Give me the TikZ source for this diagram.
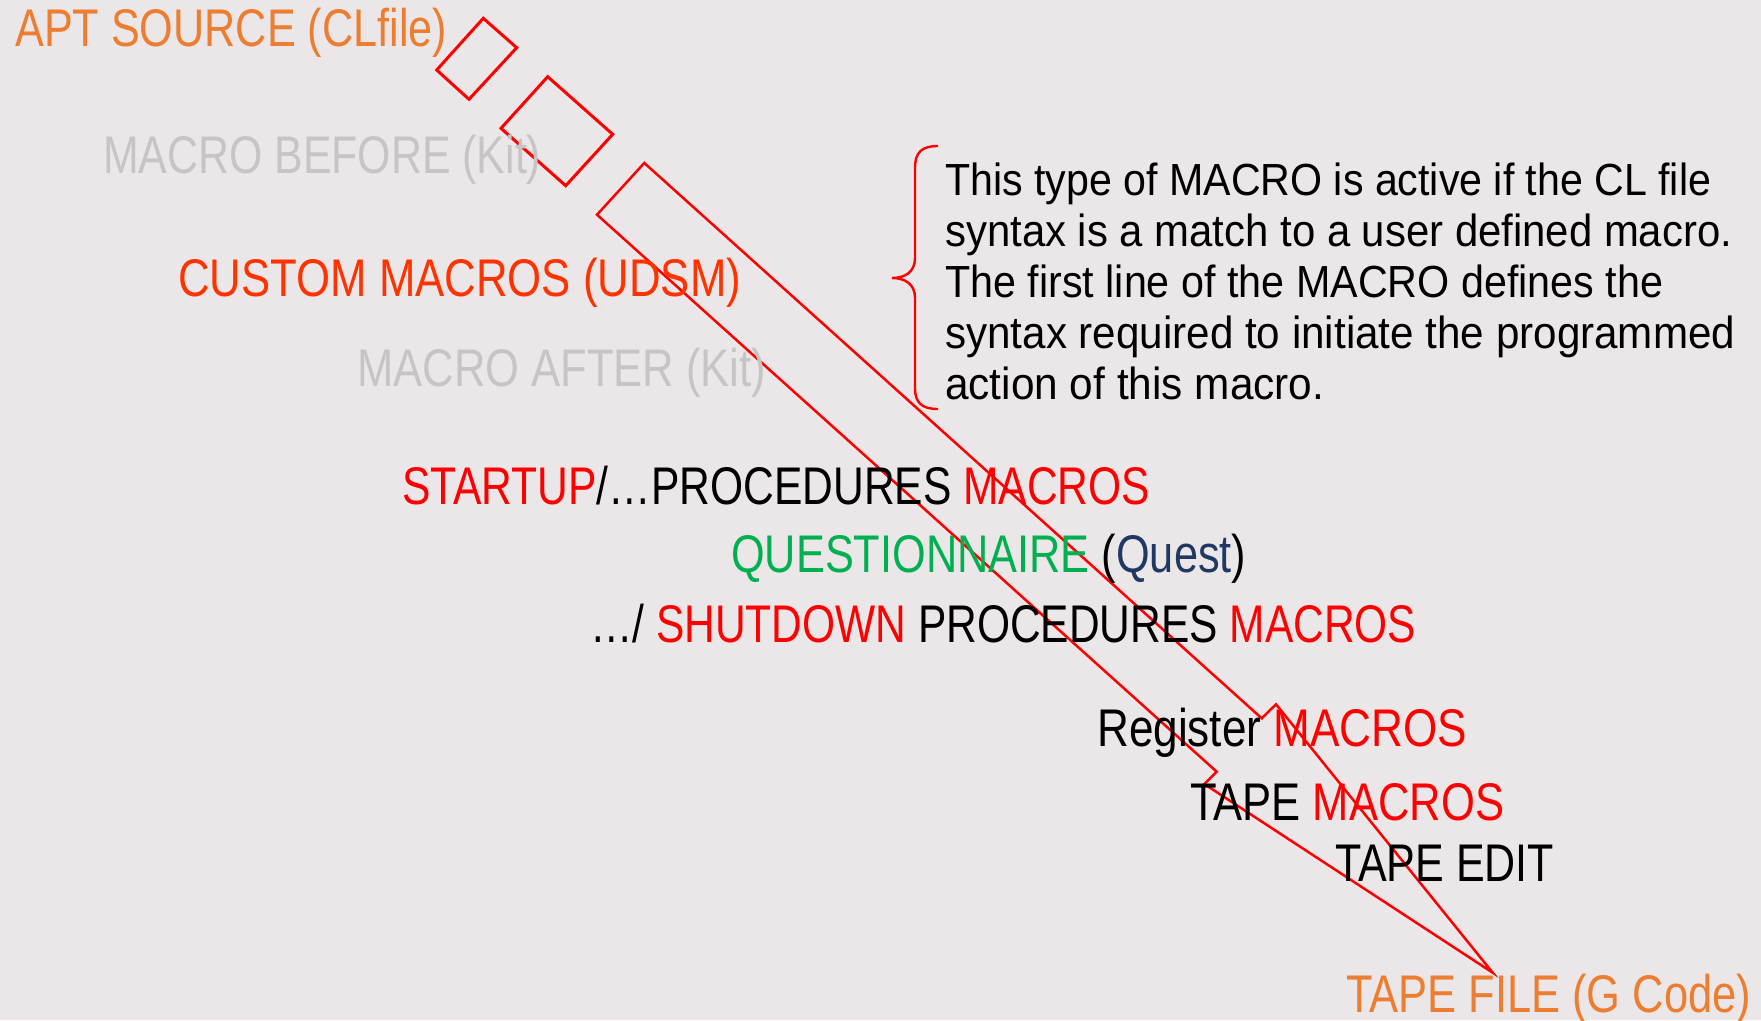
\documentclass[tikz,border=0pt]{standalone}
\usepackage{fontspec}
\setmainfont{Liberation Sans}
\usepackage{graphicx}
\definecolor{bg}{RGB}{235,231,232}
\definecolor{aptorange}{RGB}{237,125,49}
\definecolor{custred}{RGB}{255,51,0}
\definecolor{mred}{RGB}{255,0,0}
\definecolor{qgreen}{RGB}{0,176,80}
\definecolor{qblue}{RGB}{31,56,100}
\definecolor{kitgray}{RGB}{198,197,198}
\newcommand{\fitw}[2]{\resizebox{#1pt}{\height}{#2}}
\begin{document}
\begin{tikzpicture}[x=1pt,y=-1pt,
  lbl/.style={anchor=base west, inner sep=0pt, font=\fontsize{53}{60}\selectfont},
  note/.style={anchor=base west, inner sep=0pt, font=\fontsize{45}{52}\selectfont},
  diamondline/.style={draw=mred, line width=3pt},
  boltline/.style={draw=mred, line width=2.5pt},
  braceline/.style={draw=mred, line width=2.4pt}]
\fill[bg] (0,0) rectangle (1761,1020);
\useasboundingbox (0,0) rectangle (1761,1020);

% red shapes
\draw[diamondline] (483.3,18.3) -- (516.7,47.7) -- (469,99.3) -- (436.7,70) -- cycle;
\draw[diamondline] (547.7,76.7) -- (612.7,134.3) -- (565.7,185.7) -- (501,128.3) -- cycle;
\draw[boltline] (644.3,163) -- (1261.7,718.3) -- (1276,704.3) -- (1492.7,972.7)
  -- (1204.3,784) -- (1216.7,771.7) -- (597,214.7) -- cycle;

% labels
\node[lbl, text=aptorange] (apt) at (15,46) {\fitw{432}{APT SOURCE (CLfile)}};
\node[lbl, text=kitgray] (before) at (103,173) {\fitw{438}{MACRO BEFORE (Kit)}};
\node[lbl, text=custred] (custom) at (178,296) {\fitw{563}{CUSTOM MACROS (UDSM)}};
\node[lbl, text=kitgray] (after) at (357,386) {\fitw{409}{MACRO AFTER (Kit)}};
\node[lbl] (startup) at (402,504) {\fitw{748}{\textcolor{mred}{STARTUP}/…PROCEDURES \textcolor{mred}{MACROS}}};
\node[lbl] (quest) at (731,572) {\fitw{515}{\textcolor{qgreen}{QUESTIONNAIRE} (\textcolor{qblue}{Quest})}};
\node[lbl] (shut) at (590,642) {\fitw{826}{…/ \textcolor{mred}{SHUTDOWN} PROCEDURES \textcolor{mred}{MACROS}}};
\node[lbl] (register) at (1097,746) {\fitw{370}{Register \textcolor{mred}{MACROS}}};
\node[lbl] (tapem) at (1190,820) {\fitw{314}{TAPE \textcolor{mred}{MACROS}}};
\node[lbl] (tapeedit) at (1335,881) {\fitw{219}{TAPE EDIT}};
\node[lbl, text=aptorange] (tapefile) at (1346,1012) {\fitw{405}{TAPE FILE (G Code)}};

% explanation
\node[note] (l1) at (945,195) {\fitw{766}{This type of MACRO is active if the CL file}};
\node[note] (l2) at (945,246) {\fitw{787}{syntax is a match to a user defined macro.}};
\node[note] (l3) at (945,297) {\fitw{718}{The first line of the MACRO defines the}};
\node[note] (l4) at (945,348) {\fitw{790}{syntax required to initiate the programmed}};
\node[note] (l5) at (945,399) {\fitw{379}{action of this macro.}};

% brace
\draw[braceline] (938,146) .. controls (922,146) and (915,152) .. (915,168) -- (915,258)
  .. controls (915,272) and (905,278) .. (892,278)
  .. controls (905,278) and (915,284) .. (915,298) -- (915,388)
  .. controls (915,403) and (922,409) .. (938,409);
\end{tikzpicture}
\end{document}
